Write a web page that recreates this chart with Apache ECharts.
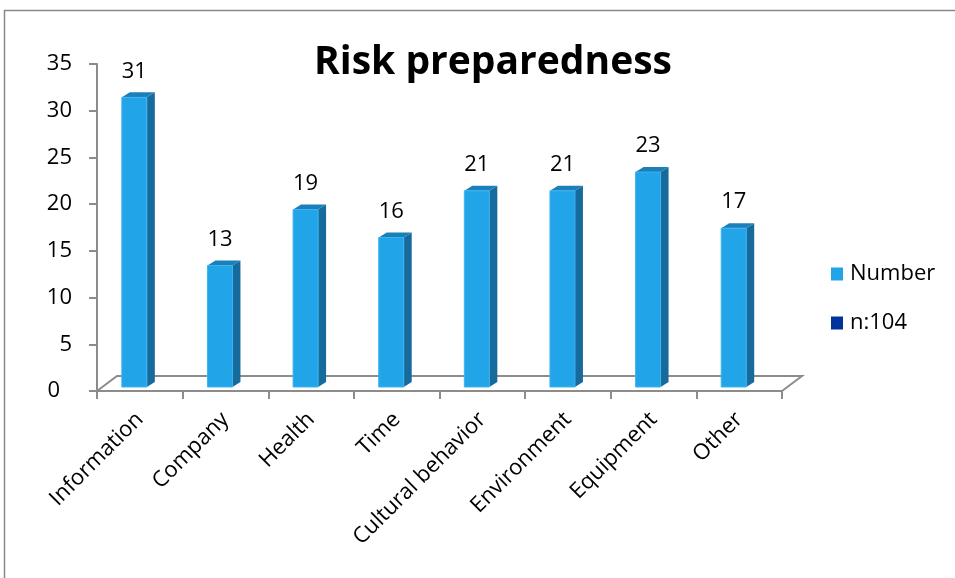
<!DOCTYPE html>
<html>
<head>
<meta charset="utf-8">
<style>
  html, body { margin: 0; padding: 0; background: #fff; }
  #chart { width: 955px; height: 578px; }
</style>
<script src="https://cdn.jsdelivr.net/npm/echarts@6/dist/echarts.min.js"></script>
</head>
<body>
<div id="chart"></div>
<script>
// Risk preparedness — responses per category
const categories = ['Information', 'Company', 'Health', 'Time', 'Cultural behavior', 'Environment', 'Equipment', 'Other'];
const counts = [31, 13, 19, 16, 21, 21, 23, 17];
const seriesNames = ['Number', 'n:104'];

const FONT = '"Open Sans", "Noto Sans", sans-serif';
const AXIS_GRAY = '#8c8c8c';

const chart = echarts.init(document.getElementById('chart'), null, { renderer: 'canvas' });

// Box-shaped bar: front face, shaded right side and lit top
function renderBar(params, api) {
  const idx = api.value(0);
  const val = api.value(1);
  const base = api.coord([idx, 0]);
  const top = api.coord([idx, val]);
  const band = api.size([1, 0])[0];
  const cx = base[0];
  const lift = 4;
  const y0 = base[1] - lift;
  const y1 = top[1] - lift;
  const xl = cx - band * 0.21;
  const w = band * 0.292;
  const xr = xl + w;
  const dx = 8, dy = -5;
  return {
    type: 'group',
    children: [
      {
        type: 'polygon',
        shape: { points: [[xr, y0], [xr + dx, y0 + dy], [xr + dx, y1 + dy], [xr, y1]] },
        style: { fill: '#176a9c' }
      },
      {
        type: 'polygon',
        shape: { points: [[xl, y1], [xr, y1], [xr + dx, y1 + dy], [xl + dx, y1 + dy]] },
        style: { fill: '#1b7fba' }
      },
      {
        type: 'rect',
        shape: { x: xl, y: y1, width: w, height: y0 - y1 },
        style: { fill: '#22a5e8', stroke: '#3cb4ef', lineWidth: 1 }
      },
      {
        type: 'text',
        style: {
          text: String(val),
          x: xl + w / 2,
          y: y1 - 26,
          textAlign: 'center',
          textVerticalAlign: 'middle',
          fontSize: 22,
          fontFamily: FONT,
          fill: '#000'
        }
      }
    ]
  };
}

// Floor of the 3D plot: back edge and side edges behind the x axis line
function renderFloor(params, api) {
  const cs = params.coordSys;
  const yb = cs.y + cs.height;
  const dx = 20, dy = -15;
  return {
    type: 'polyline',
    shape: {
      points: [[cs.x, yb], [cs.x + dx, yb + dy], [cs.x + cs.width + dx, yb + dy], [cs.x + cs.width, yb]]
    },
    style: { stroke: AXIS_GRAY, lineWidth: 2, fill: null }
  };
}

const option = {
  backgroundColor: '#fff',
  animation: false,
  title: {
    text: 'Risk preparedness',
    left: 488,
    top: 38,
    textAlign: 'center',
    textStyle: { fontFamily: FONT, fontWeight: 'bold', fontSize: 39, color: '#000' }
  },
  legend: {
    orient: 'vertical',
    left: 831,
    top: 263,
    padding: 0,
    itemWidth: 12,
    itemHeight: 13,
    itemGap: 27,
    icon: 'rect',
    data: seriesNames,
    textStyle: { fontFamily: FONT, fontSize: 22, color: '#000', padding: [0, 0, 0, 2] }
  },
  graphic: [
    {
      type: 'rect',
      shape: { x: 4.5, y: 10.5, width: 1000, height: 700 },
      style: { fill: null, stroke: '#888', lineWidth: 1.5 },
      silent: true
    }
  ],
  grid: { left: 97, top: 64, width: 685, height: 327, containLabel: false },
  xAxis: {
    type: 'category',
    data: categories,
    boundaryGap: true,
    axisLine: { show: true, lineStyle: { color: AXIS_GRAY, width: 2 } },
    axisTick: { show: true, length: 8, lineStyle: { color: AXIS_GRAY, width: 2 } },
    axisLabel: {
      rotate: 45,
      margin: 25,
      interval: 0,
      fontFamily: FONT,
      fontSize: 22,
      color: '#000'
    },
    splitLine: { show: false }
  },
  yAxis: {
    type: 'value',
    min: 0,
    max: 35,
    interval: 5,
    axisLine: { show: true, lineStyle: { color: AXIS_GRAY, width: 2 } },
    axisTick: { show: true, length: 8, lineStyle: { color: AXIS_GRAY, width: 2 } },
    axisLabel: {
      margin: 25,
      fontFamily: FONT,
      fontSize: 22,
      color: '#000',
      formatter: (v) => (v === 0 ? '{zero|0}' : String(v)),
      rich: {
        zero: { fontFamily: FONT, fontSize: 22, color: '#000', padding: [0, 12, 0, 0] }
      }
    },
    splitLine: { show: false }
  },
  series: [
    {
      type: 'custom',
      name: 'floor',
      renderItem: renderFloor,
      data: [[0, 0]],
      z: 1,
      silent: true,
      legendHoverLink: false
    },
    {
      type: 'custom',
      name: seriesNames[0],
      renderItem: renderBar,
      itemStyle: { color: '#22a5e8' },
      encode: { x: 0, y: 1 },
      data: counts.map((v, i) => [i, v]),
      z: 3
    },
    {
      type: 'custom',
      name: seriesNames[1],
      renderItem: renderBar,
      itemStyle: { color: '#00349a' },
      data: [],
      z: 3
    }
  ]
};

chart.setOption(option);
</script>
</body>
</html>
